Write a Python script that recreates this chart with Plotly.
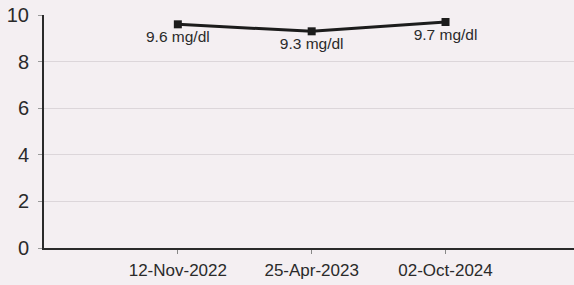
import plotly.graph_objects as go

dates = ["12-Nov-2022", "25-Apr-2023", "02-Oct-2024"]
values = [9.6, 9.3, 9.7]
labels = ["9.6 mg/dl", "9.3 mg/dl", "9.7 mg/dl"]
y_ticks = [0, 2, 4, 6, 8, 10]

fig = go.Figure()
fig.add_trace(go.Scatter(
    x=dates, y=values, mode="lines+markers+text",
    text=labels, textposition="bottom center",
    textfont=dict(family="Liberation Sans, Arial", size=15.5, color="#2a2a2a"),
    line=dict(color="#1c1c1c", width=3),
    marker=dict(symbol="square", size=8, color="#1c1c1c"),
    showlegend=False, cliponaxis=False, hoverinfo="skip",
))
fig.update_layout(
    width=574, height=285,
    margin=dict(l=44, r=0, t=15, b=37, autoexpand=False),
    paper_bgcolor="#f4eff2", plot_bgcolor="#f4eff2",
    font=dict(family="Liberation Sans, Arial", color="#2a2a2a"),
)
fig.update_xaxes(
    type="category", range=[-1, 2.96], automargin=False,
    showline=True, linecolor="#2a2a2a", linewidth=2,
    ticks="outside", ticklen=4, tickcolor="#888", tickwidth=1,
    ticklabelstandoff=2,
    showgrid=False, tickfont=dict(size=17),
)
fig.update_yaxes(
    range=[0, 10], tickvals=y_ticks, automargin=False,
    showline=True, linecolor="#2a2a2a", linewidth=2,
    ticks="outside", ticklen=4, tickcolor="#999", tickwidth=1,
    ticklabelstandoff=5,
    gridcolor="#dcd6da", gridwidth=1, zeroline=False,
    tickfont=dict(size=20),
)
fig.write_html("out.html", config={"displayModeBar": False},
               post_script="document.body.style.margin='0';")
